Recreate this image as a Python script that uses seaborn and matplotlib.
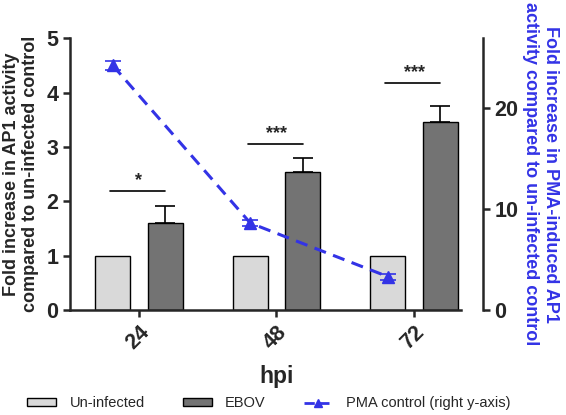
import matplotlib
matplotlib.use("Agg")
import matplotlib.pyplot as plt
import seaborn as sns
import pandas as pd
from matplotlib.lines import Line2D
from matplotlib.patches import Patch

# ---- data ----
hpi = ["24", "48", "72"]
uninfected = [1.0, 1.0, 1.0]
ebov = [1.60, 2.54, 3.46]
ebov_err = [0.31, 0.25, 0.29]
pma = [24.2, 8.6, 3.3]
pma_err = [0.4, 0.3, 0.3]
sig_labels = ["*", "***", "***"]
sig_heights = [2.19, 3.05, 4.17]

sns.set_theme(style="ticks")
plt.rcParams['font.family'] = ['Liberation Sans', 'DejaVu Sans']
plt.rcParams['font.weight'] = 'bold'

df = pd.DataFrame({
    "hpi": hpi * 2,
    "value": uninfected + ebov,
    "group": ["Un-infected"] * 3 + ["EBOV"] * 3,
})

fig = plt.figure(figsize=(5.66, 4.15), dpi=100)
ax = fig.add_axes([0.124, 0.253, 0.729, 0.655])

sns.barplot(data=df, x="hpi", y="value", hue="group",
            palette={"Un-infected": "#d9d9d9", "EBOV": "#737373"},
            width=0.76, gap=0.33, edgecolor="black", linewidth=1.0,
            errorbar=None, legend=False, ax=ax)

un_bars = ax.containers[0]
eb_bars = ax.containers[1]
un_x = [p.get_x() + p.get_width() / 2 for p in un_bars]
eb_x = [p.get_x() + p.get_width() / 2 for p in eb_bars]

# EBOV error bars (upper only)
ax.errorbar(eb_x, ebov, yerr=[[0] * 3, ebov_err], fmt="none", ecolor="black",
            elinewidth=1.2, capsize=7, capthick=1.2, zorder=1)

# significance lines
for ux, ex, h, lab in zip(un_x, eb_x, sig_heights, sig_labels):
    ax.plot([ux - 0.02, ex], [h, h], color="black", lw=1.2)
    ax.text((ux + ex) / 2, h + 0.04, lab, ha="center", va="bottom",
            fontsize=13, fontweight="bold")

ax.set_ylim(0, 5)
ax.set_xlim(-0.5, 2.5)
ax.set_yticks([0, 1, 2, 3, 4, 5])
ax.spines["top"].set_visible(False)
ax.spines["right"].set_visible(False)
ax.spines["bottom"].set_bounds(-0.5, 2.34)
for s in ["left", "bottom"]:
    ax.spines[s].set_linewidth(1.8)
ax.tick_params(axis="both", width=1.8, length=5, labelsize=15.5)
for lbl in ax.get_yticklabels() + ax.get_xticklabels():
    lbl.set_fontweight("bold")
plt.setp(ax.get_xticklabels(), rotation=45, ha="right", rotation_mode="anchor")
ax.set_xlabel("hpi", fontsize=16.5, fontweight="bold", labelpad=8)
ax.set_ylabel("Fold increase in AP1 activity\ncompared to un-infected control",
              fontsize=13, fontweight="bold", labelpad=5)

# right axis
ax2 = ax.twinx()
blue = "#3333e6"
ax2.errorbar(un_x, pma, yerr=pma_err, color=blue, ls="--", lw=2.2,
             dashes=(4, 2.5), marker="^", ms=8, capsize=6, elinewidth=1.2,
             capthick=1.2)
ax2.set_ylim(0, 26.9)
ax2.set_yticks([0, 10, 20])
ax2.spines["top"].set_visible(False)
ax2.spines["left"].set_visible(False)
ax2.spines["bottom"].set_visible(False)
ax2.spines["right"].set_linewidth(1.8)
ax2.tick_params(axis="y", width=1.8, length=5, labelsize=15.5)
for lbl in ax2.get_yticklabels():
    lbl.set_fontweight("bold")
ax2.set_ylabel("Fold increase in PMA-induced AP1\nactivity compared to un-infected control",
               fontsize=13, fontweight="bold", color=blue, rotation=-90,
               labelpad=29)

handles = [
    Patch(facecolor="#d9d9d9", edgecolor="black", label="Un-infected"),
    Patch(facecolor="#737373", edgecolor="black", label="EBOV"),
    Line2D([0], [0], color=blue, ls="--", lw=2, marker="^", ms=6,
           label="PMA control (right y-axis)"),
]
leg = fig.legend(handles=handles, loc="lower center", bbox_to_anchor=(0.475, -0.02),
                 ncol=3, frameon=False, fontsize=10.5, columnspacing=2.6,
                 handlelength=2.0, handleheight=0.5, handletextpad=0.9)
for t in leg.get_texts():
    t.set_fontweight("normal")

fig.savefig("out.png", dpi=100)
